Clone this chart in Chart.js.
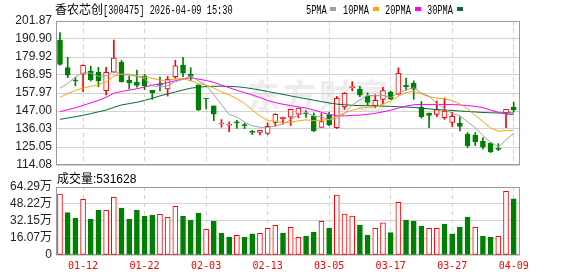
<!DOCTYPE html>
<html><head><meta charset="utf-8">
<script src="https://cdn.jsdelivr.net/npm/chart.js@4.4.1/dist/chart.umd.min.js"></script>
<style>
html,body{margin:0;padding:0;background:#fff;width:578px;height:276px;overflow:hidden;position:relative}
canvas{position:absolute;left:0}
#pc{top:0}
#vc{top:170px}
.t{position:absolute;white-space:nowrap;color:#000}
.m{display:inline-block;font-family:'Liberation Mono',monospace;font-size:12px;transform:scaleX(.72);transform-origin:0 50%}
.sq{position:absolute;width:6px;height:4px;top:7px}
.wm{position:absolute;left:247px;top:70px;font:bold 33px 'Noto Sans CJK SC';color:#ededed;letter-spacing:3px;white-space:nowrap}
</style></head>
<body>
<div class="wm">东方财富</div>
<canvas id="pc" width="578" height="170"></canvas>
<canvas id="vc" width="578" height="106"></canvas>
<div class="t" style="left:55px;top:0px;font-size:12px;line-height:18px"><span style="font-family:'Noto Sans CJK SC'">香农芯创</span><span class="m">[300475] 2026-04-09 15:30</span></div>
<div class="t" style="left:306px;top:0;line-height:18px"><span class="m">5PMA</span></div>
<div class="sq" style="left:330px;background:#a0a0a0"></div>
<div class="t" style="left:343px;top:0;line-height:18px"><span class="m">10PMA</span></div>
<div class="sq" style="left:373px;background:#ffa500"></div>
<div class="t" style="left:385px;top:0;line-height:18px"><span class="m">20PMA</span></div>
<div class="sq" style="left:415px;background:#ff00ff"></div>
<div class="t" style="left:427px;top:0;line-height:18px"><span class="m">30PMA</span></div>
<div class="sq" style="left:457px;background:#006a3a"></div>
<div class="t" style="left:57px;top:169px;font-size:12px;line-height:18px"><span style="font-family:'Noto Sans CJK SC'">成交量</span><span style="font-family:'Liberation Sans'">:531628</span></div>
<script>
// ---- data ----
const dates = ['01-07','01-08','01-09','01-12','01-13','01-14','01-15','01-16','01-19','01-20',
 '01-21','01-22','01-23','01-26','01-27','01-28','01-29','01-30','02-02','02-03',
 '02-04','02-05','02-06','02-09','02-10','02-11','02-12','02-13','02-24','02-25',
 '02-26','02-27','03-02','03-03','03-04','03-05','03-06','03-09','03-10','03-11',
 '03-12','03-13','03-16','03-17','03-18','03-19','03-20','03-23','03-24','03-25',
 '03-26','03-27','03-30','03-31','04-01','04-02','04-03','04-07','04-08','04-09'];
const tickDates = ['01-12','01-22','02-03','02-13','03-05','03-17','03-27','04-09'];
const open  = [190.3,173.4,165.9,169.4,171.4,170.6,159.4,170.8,176.9,165.9,
 164.7,168.3,159.6,163.6,160.4,167.9,175.0,169.4,162.9,154.5,
 150.2,139.1,138.3,140.0,138.3,134.5,134.0,133.4,140.1,142.3,
 143.3,145.1,145.4,143.7,137.0,144.8,136.8,149.5,161.3,160.3,
 155.9,150.2,154.1,158.6,157.2,162.6,164.0,149.3,145.8,144.9,
 142.9,140.1,139.6,133.0,132.3,128.7,127.4,123.8,145.7,149.4];
const high  = [194.8,179.7,167.5,175.2,174.4,173.6,173.6,190.3,177.9,168.3,
 172.0,169.4,159.6,167.7,168.1,177.9,179.7,173.4,162.9,154.6,
 150.2,141.8,140.3,141.3,139.7,135.2,135.2,139.8,145.4,143.3,
 148.0,148.8,147.2,145.8,145.5,146.2,155.9,158.2,164.9,162.0,
 158.1,157.0,161.5,159.2,173.3,167.0,165.4,152.8,145.8,153.1,
 154.9,146.2,143.5,133.8,133.8,130.8,127.9,127.1,148.0,152.4];
const low   = [175.0,167.3,162.4,158.8,165.3,161.8,156.8,170.5,164.6,160.4,
 161.6,160.0,154.1,159.2,156.1,166.5,167.9,165.5,147.2,148.2,
 141.1,137.1,134.4,136.4,136.2,132.6,132.4,132.6,137.7,139.1,
 138.1,142.9,143.1,134.4,137.0,138.1,136.3,148.0,159.3,155.8,
 150.5,149.0,151.5,153.9,156.8,159.8,154.1,142.7,136.9,143.5,
 141.9,137.6,134.9,124.6,125.9,123.8,121.6,122.8,136.8,146.4];
const close = [175.4,168.9,165.3,174.8,165.9,165.5,170.6,179.3,164.9,164.1,
 162.6,162.3,158.0,162.8,166.3,174.6,170.0,168.1,147.6,154.3,
 145.0,139.3,138.5,139.8,138.1,134.0,135.2,137.7,145.0,143.2,
 148.0,148.8,145.2,134.8,140.5,138.5,154.7,157.8,161.5,156.6,
 152.3,153.5,159.5,154.2,170.0,161.8,160.3,143.5,144.3,147.9,
 146.9,143.8,137.6,125.9,128.2,125.0,122.2,123.6,148.0,147.6];
const ma5  = [160.8,163.9,167.6,170.4,170.1,168.1,168.5,171.2,169.2,168.9,
 168.2,166.6,162.3,161.9,162.3,164.8,166.3,168.4,165.3,162.9,
 157.0,150.9,144.9,143.4,140.2,138.0,137.1,137.0,138.0,139.0,
 141.8,144.6,146.1,144.0,143.5,141.6,142.7,145.3,150.6,153.8,
 156.5,156.3,156.6,155.2,157.9,159.8,161.2,158.0,156.0,151.6,
 148.6,145.3,144.1,140.4,136.7,132.1,127.8,125.0,129.4,133.3];
const ma10 = [155.3,157.6,159.6,161.0,162.0,163.0,164.8,168.2,169.5,169.5,
 168.3,167.6,166.9,165.7,165.7,166.6,166.6,165.5,163.7,162.7,
 161.0,158.7,156.8,154.5,151.6,147.6,144.1,141.1,140.8,139.7,
 140.0,141.0,141.6,141.1,141.4,141.8,143.8,145.8,147.4,148.7,
 149.2,149.6,151.1,153.0,156.0,158.3,158.9,157.4,155.7,154.9,
 154.4,153.4,151.2,148.4,144.2,140.5,136.7,134.7,135.1,135.1];
const ma20 = [146.6,147.8,149.0,150.4,152.0,153.5,155.4,157.8,158.9,159.7,
 160.6,161.6,162.8,163.5,164.3,165.5,166.7,167.2,166.4,165.6,
 164.4,162.8,161.2,159.6,158.2,156.8,155.2,153.4,152.1,151.1,
 150.3,149.5,148.8,147.6,146.2,144.8,144.2,144.0,144.3,144.5,
 145.0,145.6,146.5,147.4,148.8,150.0,150.8,151.0,151.0,151.0,
 151.0,150.9,150.7,150.3,149.8,149.0,147.6,146.2,145.2,144.8];
const ma30 = [141.9,142.7,143.5,144.4,145.4,146.5,147.6,149.2,150.7,151.5,
 152.3,153.5,154.7,156.2,157.4,158.6,159.8,160.9,161.5,161.9,
 162.1,162.1,162.0,161.8,161.3,160.6,159.8,158.9,158.0,157.1,
 156.2,155.3,154.5,153.6,152.7,151.9,151.2,150.8,150.5,150.3,
 150.2,150.1,150.0,149.8,149.6,149.4,149.2,148.8,148.3,147.9,
 147.6,147.3,147.0,146.7,146.4,146.1,145.9,145.8,145.8,145.8];
// volume in 万 (10k) units
const volume = [57.7,40.0,35.0,52.6,34.0,42.5,42.2,54.5,44.4,34.0,
 42.5,36.9,37.8,38.5,35.6,46.0,36.9,33.1,39.7,24.3,
 32.1,20.8,17.0,18.6,17.0,19.9,20.5,25.2,28.0,20.8,
 26.2,16.7,18.0,21.7,31.8,25.5,56.7,38.8,36.9,28.4,
 18.9,25.2,30.3,21.1,49.8,33.1,32.1,27.4,25.2,25.2,
 29.3,19.9,26.5,35.9,26.2,18.0,17.0,17.7,60.2,53.1628];
// 1 = red hollow (rise vs previous close), 0 = green
const volumeRise = [1,0,0,1,0,0,1,1,0,0, 0,0,0,1,1,1,0,0,0,1,
 0,0,0,1,0,0,1,1,1,0, 1,1,0,0,1,0,1,1,1,0, 0,1,1,0,1,0,0,0,1,1,
 0,0,0,0,1,0,0,1,1,0];
const priceTicks = [114.08,125.05,136.03,147.00,157.97,168.95,179.92,190.90,201.87];
const volumeTicks = [0,16.07,32.15,48.22,64.29];

// ---- styles ----
const RED = '#ff0000', GREEN = '#008000', GRID = '#d2d2d2';
const XMIN = -0.52, XMAX = 59.82;
const tickIdx = tickDates.map(d => dates.indexOf(d));
const up = open.map((o, i) => close[i] > o);

const frame = {
  id: 'frame',
  beforeDatasetsDraw(c) {
    const a = c.chartArea, ctx = c.ctx;
    ctx.save();
    ctx.strokeStyle = '#9a9a9a';
    ctx.lineWidth = 1;
    ctx.strokeRect(Math.round(a.left) + 0.5, Math.round(a.top) + 0.5,
      Math.round(a.right - a.left) - 1, Math.round(a.bottom - a.top) - 1);
    ctx.restore();
  }
};

const common = {
  responsive: false, animation: false, devicePixelRatio: 1, events: [],
  plugins: { legend: { display: false }, tooltip: { enabled: false } }
};
const labelFont = { family: "'Liberation Sans','Noto Sans CJK SC',sans-serif", size: 12 };
const noPad = s => { s.paddingLeft = 0; s.paddingRight = 0; s.paddingTop = 0; s.paddingBottom = 0; };

function line(data, color) {
  return { type: 'line', data: data.map((v, i) => ({ x: i, y: v })), borderColor: color,
    borderWidth: 1, pointRadius: 0, tension: 0, fill: false, order: 0 };
}

function xScale(showLabels) {
  return { type: 'linear', min: XMIN, max: XMAX, offset: false,
    afterBuildTicks: s => { s.ticks = tickIdx.map(v => ({ value: v })); },
    ticks: showLabels ? { autoSkip: false, maxRotation: 0, padding: 5, color: RED,
      font: { family: "'DejaVu Sans Mono',monospace", size: 10 }, callback: v => dates[v] } : { display: false },
    grid: { color: GRID, drawTicks: false, offset: false },
    border: { display: false, dash: [4, 4] },
    afterFit: s => { noPad(s); s.height = showLabels ? 21 : 0; } };
}

new Chart(document.getElementById('pc'), {
  type: 'bar',
  data: { datasets: [
    line(ma5, '#a0a0a0'), line(ma10, '#ffa500'), line(ma20, '#ff00ff'), line(ma30, '#006a3a'),
    { data: open.map((o, i) => ({ x: i, y: [o, close[i]] })),
      backgroundColor: up.map(u => u ? '#ffffff' : GREEN),
      borderColor: up.map(u => u ? RED : GREEN),
      borderWidth: 1, borderSkipped: false, barThickness: 5, minBarLength: 1, grouped: false, order: 1 },
    { data: low.map((l, i) => ({ x: i, y: [l, high[i]] })),
      backgroundColor: up.map(u => u ? RED : GREEN),
      barThickness: 1, grouped: false, order: 2 }
  ]},
  options: Object.assign({}, common, {
    layout: { padding: { top: 21, bottom: 5, left: 0, right: 58 } },
    scales: {
      x: xScale(false),
      y: { position: 'left', min: priceTicks[0], max: priceTicks[priceTicks.length - 1],
        afterBuildTicks: s => { s.ticks = priceTicks.map(v => ({ value: v })); },
        ticks: { autoSkip: false, padding: 4, color: '#222', font: labelFont, callback: v => v.toFixed(2) },
        grid: { color: GRID, drawTicks: false },
        border: { display: false },
        afterFit: s => { noPad(s); s.width = 56; } }
    }
  }),
  plugins: [frame]
});

new Chart(document.getElementById('vc'), {
  type: 'bar',
  data: { datasets: [
    { data: volume.map((v, i) => ({ x: i, y: v })),
      backgroundColor: volumeRise.map(r => r ? '#ffffff' : GREEN),
      borderColor: volumeRise.map(r => r ? RED : GREEN),
      borderWidth: 1, borderSkipped: false, barThickness: 5, grouped: false }
  ]},
  options: Object.assign({}, common, {
    layout: { padding: { top: 17, bottom: 0, left: 0, right: 58 } },
    scales: {
      x: xScale(true),
      y: { position: 'left', min: volumeTicks[0], max: volumeTicks[volumeTicks.length - 1],
        afterBuildTicks: s => { s.ticks = volumeTicks.map(v => ({ value: v })); },
        ticks: { autoSkip: false, padding: 4, color: '#222', font: labelFont,
          callback: v => v === 0 ? '0' : v.toFixed(2) + '万' },
        grid: { color: GRID, drawTicks: false },
        border: { display: false },
        afterFit: s => { noPad(s); s.width = 56; } }
    }
  }),
  plugins: [frame]
});
</script>
</body></html>
